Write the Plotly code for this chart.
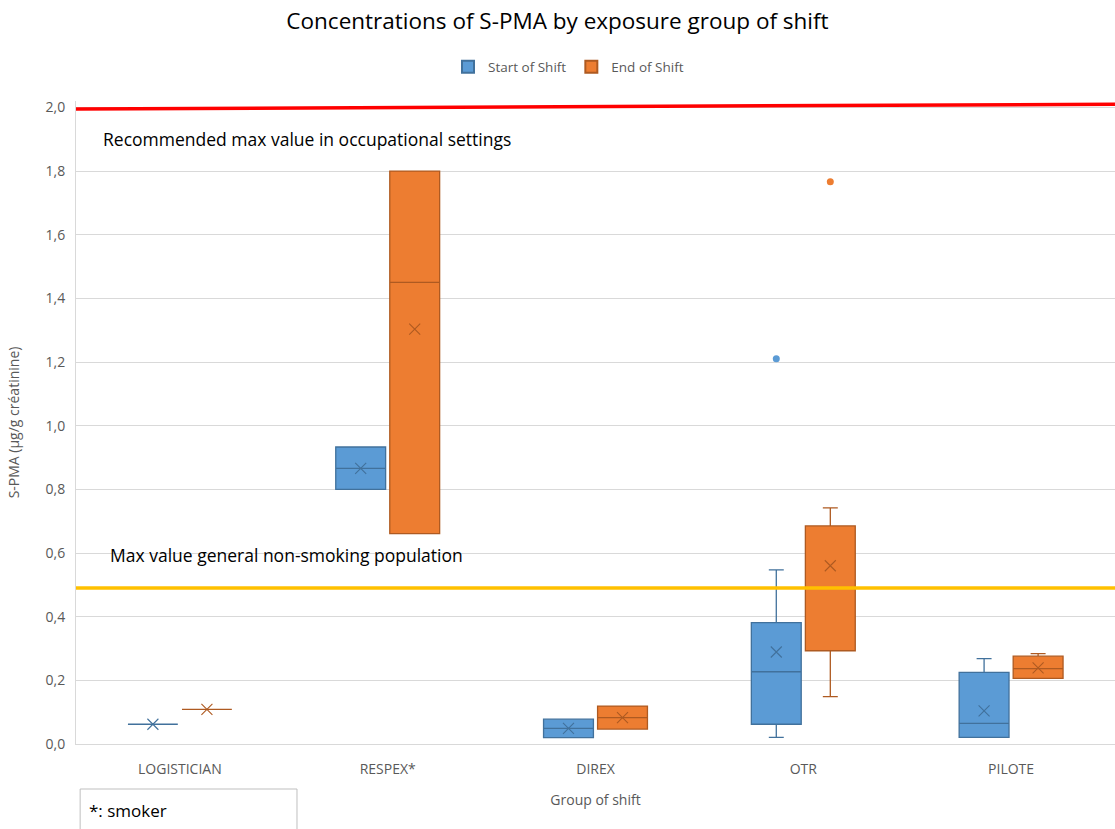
import plotly.graph_objects as go

categories = ["LOGISTICIAN", "RESPEX*", "DIREX", "OTR", "PILOTE"]

start_q1 = [0.062, 0.800, 0.020, 0.062, 0.021]
start_median = [0.062, 0.866, 0.049, 0.227, 0.065]
start_q3 = [0.062, 0.933, 0.078, 0.381, 0.225]
start_low = [0.062, 0.800, 0.020, 0.021, 0.021]
start_high = [0.062, 0.933, 0.078, 0.547, 0.268]
start_mean = [0.062, 0.866, 0.049, 0.289, 0.104]
start_outlier_cat = ["OTR"]
start_outlier_val = [1.21]

end_q1 = [0.109, 0.661, 0.047, 0.293, 0.206]
end_median = [0.109, 1.450, 0.083, 0.489, 0.237]
end_q3 = [0.109, 1.800, 0.119, 0.685, 0.276]
end_low = [0.109, 0.661, 0.047, 0.149, 0.206]
end_high = [0.109, 1.800, 0.119, 0.742, 0.284]
end_mean = [0.109, 1.303, 0.083, 0.560, 0.239]
end_outlier_cat = ["OTR"]
end_outlier_val = [1.766]

occupational_limit = 2.0
general_limit = 0.49

BLUE_FILL, BLUE_LINE = "#5B9BD5", "#41719C"
ORANGE_FILL, ORANGE_LINE = "#ED7D31", "#AE5A21"
OFFSET = 0.13
WIDTH = 0.24

idx = list(range(len(categories)))
xs_start = [i - OFFSET for i in idx]
xs_end = [i + OFFSET for i in idx]

fig = go.Figure()

def add_series(name, xs, q1, med, q3, lo, hi, mean, fill, line, out_cat, out_val, off):
    fig.add_trace(go.Box(
        name=name, x=xs, q1=q1, median=med, q3=q3, lowerfence=lo, upperfence=hi,
        boxpoints=False, boxmean=False, width=WIDTH, whiskerwidth=0.3,
        fillcolor=fill, line=dict(color=line, width=1.3), hoverinfo="y",
    ))
    fig.add_trace(go.Scatter(
        x=xs, y=mean, mode="markers", showlegend=False, hoverinfo="y",
        marker=dict(symbol="x-thin", size=11, line=dict(color=line, width=1.1), color=line),
    ))
    fig.add_trace(go.Scatter(
        x=[categories.index(c) + off for c in out_cat], y=out_val, mode="markers",
        showlegend=False, hoverinfo="y",
        marker=dict(symbol="circle", size=7, color=fill),
    ))

add_series("Start of Shift", xs_start, start_q1, start_median, start_q3, start_low,
           start_high, start_mean, BLUE_FILL, BLUE_LINE, start_outlier_cat, start_outlier_val, -OFFSET)
add_series("End of Shift", xs_end, end_q1, end_median, end_q3, end_low,
           end_high, end_mean, ORANGE_FILL, ORANGE_LINE, end_outlier_cat, end_outlier_val, OFFSET)

# reference lines
fig.add_shape(type="line", xref="x", yref="y", x0=-0.5, x1=len(categories) - 0.5,
              y0=occupational_limit - 0.005, y1=occupational_limit + 0.01,
              line=dict(color="#FF0000", width=3.5), layer="above")
fig.add_shape(type="line", xref="x", yref="y", x0=-0.5, x1=len(categories) - 0.5,
              y0=general_limit, y1=general_limit,
              line=dict(color="#FFC000", width=3.5), layer="above")

fig.add_annotation(text="Recommended max value in occupational settings", xref="paper", yref="y",
                   x=0.024, y=1.9, xanchor="left", yanchor="middle", showarrow=False,
                   font=dict(size=17.5, color="#000000"))
fig.add_annotation(text="Max value general non-smoking population", xref="paper", yref="y",
                   x=0.031, y=0.595, xanchor="left", yanchor="middle", showarrow=False,
                   font=dict(size=17.5, color="#000000"))

# smoker note box
fig.add_shape(type="rect", xref="paper", yref="paper", x0=0.004, x1=0.2127, y0=-0.07, y1=-0.15,
              line=dict(color="#BFBFBF", width=1), fillcolor="white", layer="above")
fig.add_annotation(text="*: smoker", xref="paper", yref="paper", x=0.011, y=-0.103,
                   xanchor="left", yanchor="middle", showarrow=False,
                   font=dict(size=17, color="#000000"))

fig.update_layout(
    width=1115, height=829,
    paper_bgcolor="white", plot_bgcolor="white",
    font=dict(family="Open Sans, Noto Sans, sans-serif", color="#595959"),
    separators=", ",
    boxmode="overlay",
    margin=dict(l=76, r=0, t=101, b=85),
    title=dict(text="Concentrations of S-PMA by exposure group of shift", x=0.5, xanchor="center",
               y=0.975, yanchor="middle", font=dict(size=22.5, color="#000000")),
    legend=dict(orientation="h", x=0.474, xanchor="center", y=1.053, yanchor="middle",
                font=dict(size=13.5, color="#595959"), itemsizing="constant", itemwidth=30),
    showlegend=True,
)
fig.update_xaxes(
    range=[-0.5, len(categories) - 0.5], tickvals=idx, ticktext=categories,
    showgrid=False, zeroline=False, showline=True, linecolor="#D9D9D9", linewidth=1,
    ticks="", tickfont=dict(size=14, color="#595959"), ticklabelstandoff=12,
    title=dict(text="Group of shift", font=dict(size=14, color="#595959"), standoff=18),
)
fig.update_yaxes(
    range=[0, 2.02], tickvals=[0, 0.2, 0.4, 0.6, 0.8, 1.0, 1.2, 1.4, 1.6, 1.8, 2.0],
    tickformat=".1f", showgrid=True, gridcolor="#D9D9D9", gridwidth=1,
    zeroline=False, showline=True, linecolor="#D9D9D9", ticks="",
    tickfont=dict(size=14, color="#595959"), ticklabelstandoff=7,
    title=dict(text="S-PMA (µg/g créatinine)", font=dict(size=14, color="#595959"), standoff=22),
)

fig.write_html("out.html", config={"displayModeBar": False},
               post_script="document.body.style.margin='0';")
